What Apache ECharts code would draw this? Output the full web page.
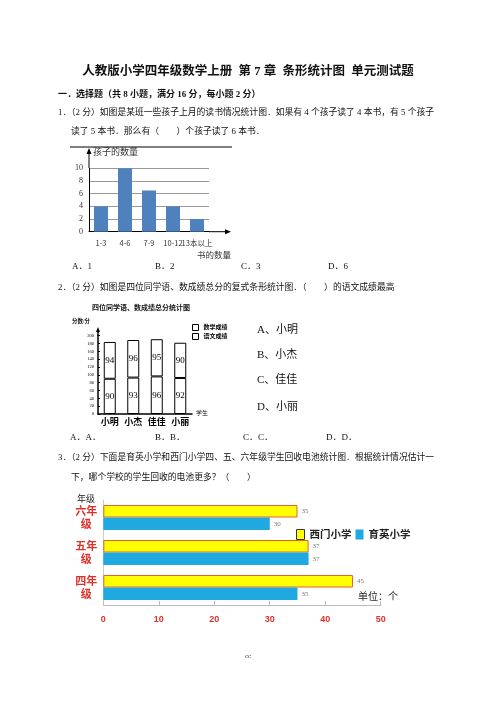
<!DOCTYPE html>
<html>
<head>
<meta charset="utf-8">
<title>条形统计图 单元测试题</title>
<script src="https://cdn.jsdelivr.net/npm/echarts@6/dist/echarts.min.js"></script>
<style>
    html, body { margin: 0; padding: 0; background: #fff; }
    #page { width: 496px; height: 702px; }
</style>
</head>
<body>
<div id="page"></div>
<script type="text/javascript">
    // 第1题：孩子的读书数量
    var bookCats = ['1-3', '4-6', '7-9', '10-12', '13本以上'];
    var kidCounts = [4, 10, 6.5, 4, 2];

    // 第2题：四位同学成绩
    var students = ['小明', '小杰', '佳佳', '小丽'];
    var mathScores = [90, 93, 96, 92];
    var chineseScores = [94, 96, 95, 90];

    // 第3题：回收电池
    var grades = ['四年级', '五年级', '六年级'];
    var ximenBatteries = [45, 37, 35];
    var yuyingBatteries = [35, 37, 30];

    var FONT = "'Liberation Serif', 'Noto Sans CJK SC', serif";
    var CJK = "'Noto Sans CJK SC', sans-serif";

    function txt(text, x, y, size, opt) {
        opt = opt || {};
        return {
            type: 'text', x: x, y: y, silent: true,
            style: {
                text: text, fontSize: size, fontFamily: opt.family || FONT,
                fontWeight: opt.bold ? 'bold' : 'normal', fill: opt.color || '#111',
                align: opt.align || 'left', verticalAlign: 'middle'
            }
        };
    }
    function line(x1, y1, x2, y2, color, w) {
        return { type: 'line', silent: true, shape: { x1: x1, y1: y1, x2: x2, y2: y2 },
                 style: { stroke: color || '#000', lineWidth: w || 1 } };
    }
    function arrow(points) {
        return { type: 'polygon', silent: true, shape: { points: points }, style: { fill: '#000' } };
    }

    var graphics = [
        txt('人教版小学四年级数学上册  第 7 章  条形统计图  单元测试题', 248, 72, 12.5, { bold: true, align: 'center' }),
        txt('一．选择题（共 8 小题，满分 16 分，每小题 2 分）', 58, 95, 9, { bold: true }),
        txt('1．（2 分）如图是某班一些孩子上月的读书情况统计图．如果有 4 个孩子读了 4 本书，有 5 个孩子', 58, 113, 8.8),
        txt('读了 5 本书．那么有（　　）个孩子读了 6 本书．', 71, 132, 8.8),
        // 图1 装饰
        line(70, 147, 232, 147, '#000', 1),
        line(89, 168, 89, 151, '#000', 1),
        arrow([[89, 148], [86.5, 154], [91.5, 154]]),
        line(209, 231.7, 228, 231.7, '#000', 1),
        arrow([[231, 231.7], [225, 229.2], [225, 234.2]]),
        txt('孩子的数量', 93, 152, 9, { family: CJK, color: '#333' }),
        txt('书的数量', 197, 255, 8.5, { family: CJK, color: '#333' }),
        txt('A．1', 72, 267, 9), txt('B．2', 155, 267, 9), txt('C．3', 241, 267, 9), txt('D．6', 328, 267, 9),

        txt('2．（2 分）如图是四位同学语、数成绩总分的复式条形统计图．（　　）的语文成绩最高', 58, 288, 8.8),
        txt('四位同学语、数成绩总分统计图', 92, 308, 7, { bold: true }),
        txt('分数/分', 72, 322, 5.5, { bold: true }),
        line(98, 336, 98, 330, '#000', 1.5),
        arrow([[98, 327], [96, 332], [100, 332]]),
        txt('学生', 196, 413, 6),
        txt('A、小明', 257, 330, 11), txt('B、小杰', 257, 355, 11),
        txt('C、佳佳', 257, 380, 11), txt('D、小丽', 257, 407, 11),
        txt('A．A．', 70, 438, 9), txt('B．B．', 155, 438, 9), txt('C．C．', 243, 438, 9), txt('D．D．', 326, 438, 9),

        txt('3．（2 分）下面是育英小学和西门小学四、五、六年级学生回收电池统计图．根据统计情况估计一', 58, 458, 8.8),
        txt('下，哪个学校的学生回收的电池更多？（　　）', 71, 478, 8.8),
        txt('年级', 86, 499, 9, { family: CJK, align: 'center', color: '#222' }),
        txt('单位：个', 358, 596, 10, { family: CJK, color: '#222' }),
        txt('cc', 248, 656, 7, { align: 'center', color: '#333' })
    ];

    var myChart = echarts.init(document.getElementById('page'), null, { renderer: 'canvas', width: 496, height: 702 });

    var option = {
        backgroundColor: '#fff',
        animation: false,
        textStyle: { fontFamily: FONT },
        graphic: graphics,
        legend: [{
            left: 187, top: 319, orient: 'vertical', itemGap: 2, itemWidth: 6, itemHeight: 6,
            icon: 'rect', itemStyle: { color: '#fff', borderColor: '#000', borderWidth: 1 },
            textStyle: { fontSize: 6, fontWeight: 'bold', color: '#000' },
            data: ['数学成绩', '语文成绩']
        }, {
            left: 291, top: 524, itemGap: 4, itemWidth: 8, itemHeight: 10, icon: 'rect',
            textStyle: { fontSize: 10.5, fontWeight: 'bold', color: '#222', fontFamily: CJK },
            data: [{ name: '西门小学', itemStyle: { borderColor: '#333', borderWidth: 1 } }, { name: '育英小学' }]
        }],
        grid: [
            { left: 89, top: 168.3, width: 120, height: 63.4 },
            { left: 98, top: 335.7, width: 94, height: 78.3 },
            { left: 103.3, top: 500, width: 277.4, height: 105 }
        ],
        xAxis: [{
            gridIndex: 0, type: 'category', data: bookCats,
            axisLine: { lineStyle: { color: '#000' } }, axisTick: { show: false },
            axisLabel: { interval: 0, fontSize: 7.5, color: '#333', margin: 8, fontFamily: CJK }
        }, {
            gridIndex: 1, type: 'category', data: students,
            axisLine: { lineStyle: { color: '#000', width: 1.5 } }, axisTick: { show: false },
            axisLabel: { interval: 0, fontSize: 9, fontWeight: 'bold', color: '#000', margin: 4 }
        }, {
            gridIndex: 2, type: 'value', min: 0, max: 50, interval: 10,
            axisLine: { show: true, lineStyle: { color: '#bbb' } },
            axisTick: { show: true, inside: true, length: 4, lineStyle: { color: '#bbb' } },
            splitLine: { show: false },
            axisLabel: { fontSize: 9, fontWeight: 'bold', color: '#e0302a', margin: 10, fontFamily: 'Liberation Sans' }
        }],
        yAxis: [{
            gridIndex: 0, type: 'value', min: 0, max: 10, interval: 2,
            axisLine: { show: true, lineStyle: { color: '#000' } }, axisTick: { show: false },
            splitLine: { lineStyle: { color: '#999' } },
            axisLabel: { fontSize: 8, color: '#333', margin: 6 }
        }, {
            gridIndex: 1, type: 'value', min: 0, max: 200, interval: 20,
            axisLine: { show: true, lineStyle: { color: '#000', width: 1.5 } },
            axisTick: { show: true, inside: true, length: 2, lineStyle: { color: '#000' } },
            splitLine: { show: false },
            axisLabel: { fontSize: 4.5, color: '#000', margin: 4 }
        }, {
            gridIndex: 2, type: 'category', data: grades,
            axisLine: { lineStyle: { color: '#ccc' } }, axisTick: { show: false },
            axisLabel: {
                fontSize: 11, fontWeight: 'bold', color: '#e0302a', align: 'center', margin: 17,
                lineHeight: 13, fontFamily: CJK,
                formatter: function (v) { return v.slice(0, 2) + '\n' + v.slice(2); }
            }
        }],
        series: [{
            type: 'bar', xAxisIndex: 0, yAxisIndex: 0, data: kidCounts, barWidth: 14,
            itemStyle: { color: '#4f81bd' }
        }, {
            name: '数学成绩', type: 'bar', xAxisIndex: 1, yAxisIndex: 1, stack: 'score', data: mathScores,
            barWidth: 12, itemStyle: { color: '#fff', borderColor: '#000', borderWidth: 1 },
            label: { show: true, position: 'inside', fontSize: 9, color: '#000' }
        }, {
            name: '语文成绩', type: 'bar', xAxisIndex: 1, yAxisIndex: 1, stack: 'score', data: chineseScores,
            barWidth: 12, itemStyle: { color: '#fff', borderColor: '#000', borderWidth: 1 },
            label: { show: true, position: 'inside', fontSize: 9, color: '#000' }
        }, {
            name: '西门小学', type: 'bar', xAxisIndex: 2, yAxisIndex: 2, data: ximenBatteries,
            barWidth: 12.5, barGap: '0%', itemStyle: { color: '#ffff00', borderColor: '#e8602c', borderWidth: 1 },
            label: { show: true, position: 'right', fontSize: 7, color: '#777', distance: 4 }
        }, {
            name: '育英小学', type: 'bar', xAxisIndex: 2, yAxisIndex: 2, data: yuyingBatteries,
            barWidth: 12.5, barGap: '0%', itemStyle: { color: '#20a8e0' },
            label: { show: true, position: 'right', fontSize: 7, color: '#777', distance: 4 }
        }]
    };

    myChart.setOption(option);
</script>
</body>
</html>
